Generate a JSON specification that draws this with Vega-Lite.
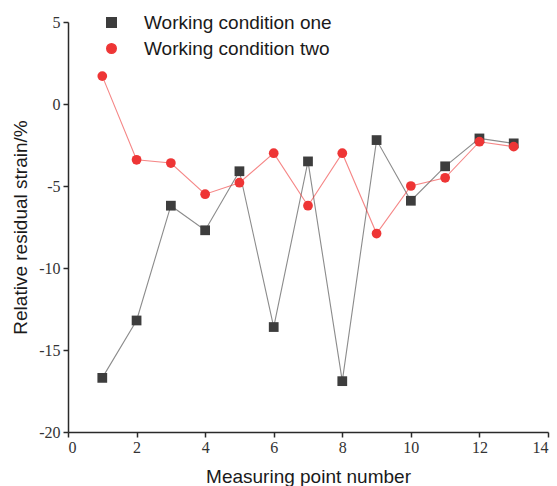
{
  "$schema": "https://vega.github.io/schema/vega-lite/v6.json",
  "width": 480,
  "height": 410,
  "autosize": {"type": "none"},
  "padding": {"left": 68, "top": 22, "right": 9, "bottom": 54},
  "background": "white",
  "config": {
    "view": {"stroke": null},
    "axis": {
      "grid": false,
      "domainColor": "#2a2a2a",
      "domainWidth": 1.5,
      "tickColor": "#2a2a2a",
      "tickWidth": 1.5,
      "tickSize": 5,
      "labelFont": "Liberation Serif",
      "labelFontSize": 16,
      "labelColor": "#333333",
      "titleFont": "Liberation Sans",
      "titleFontSize": 19,
      "titleFontWeight": "normal",
      "titleColor": "#1a1a1a"
    }
  },
  "data": {
    "values": [
      {"point": 1, "series": "Working condition one", "value": -16.7},
      {"point": 2, "series": "Working condition one", "value": -13.2},
      {"point": 3, "series": "Working condition one", "value": -6.2},
      {"point": 4, "series": "Working condition one", "value": -7.7},
      {"point": 5, "series": "Working condition one", "value": -4.1},
      {"point": 6, "series": "Working condition one", "value": -13.6},
      {"point": 7, "series": "Working condition one", "value": -3.5},
      {"point": 8, "series": "Working condition one", "value": -16.9},
      {"point": 9, "series": "Working condition one", "value": -2.2},
      {"point": 10, "series": "Working condition one", "value": -5.9},
      {"point": 11, "series": "Working condition one", "value": -3.8},
      {"point": 12, "series": "Working condition one", "value": -2.1},
      {"point": 13, "series": "Working condition one", "value": -2.4},
      {"point": 1, "series": "Working condition two", "value": 1.7},
      {"point": 2, "series": "Working condition two", "value": -3.4},
      {"point": 3, "series": "Working condition two", "value": -3.6},
      {"point": 4, "series": "Working condition two", "value": -5.5},
      {"point": 5, "series": "Working condition two", "value": -4.8},
      {"point": 6, "series": "Working condition two", "value": -3.0},
      {"point": 7, "series": "Working condition two", "value": -6.2},
      {"point": 8, "series": "Working condition two", "value": -3.0},
      {"point": 9, "series": "Working condition two", "value": -7.9},
      {"point": 10, "series": "Working condition two", "value": -5.0},
      {"point": 11, "series": "Working condition two", "value": -4.5},
      {"point": 12, "series": "Working condition two", "value": -2.3},
      {"point": 13, "series": "Working condition two", "value": -2.6}
    ]
  },
  "encoding": {
    "x": {
      "field": "point",
      "type": "quantitative",
      "scale": {"domain": [0, 14], "nice": false, "zero": false},
      "axis": {"title": "Measuring point number", "tickCount": 7, "labelPadding": 2, "titlePadding": 12}
    },
    "y": {
      "field": "value",
      "type": "quantitative",
      "scale": {"domain": [-20, 5], "nice": false, "zero": false},
      "axis": {
        "title": "Relative residual strain/%",
        "tickCount": 5,
        "labelExpr": "replace(datum.label, '\u2212', '-')",
        "labelPadding": 3,
        "titlePadding": 8
      }
    },
    "color": {
      "field": "series",
      "type": "nominal",
      "scale": {"domain": ["Working condition one", "Working condition two"], "range": ["#3d3d3d", "#ee3535"]},
      "legend": {
        "title": null,
        "orient": "none",
        "legendX": 34,
        "legendY": -9,
        "padding": 0,
        "labelFont": "Liberation Sans",
        "labelFontSize": 19,
        "labelColor": "#1a1a1a",
        "labelLimit": 0,
        "labelOffset": 23,
        "symbolSize": 90,
        "rowPadding": 6
      }
    }
  },
  "layer": [
    {
      "mark": {"type": "line", "strokeWidth": 1.1, "strokeOpacity": 0.6}
    },
    {
      "mark": {"type": "point", "filled": true, "opacity": 1, "size": 95},
      "encoding": {
        "shape": {
          "field": "series",
          "type": "nominal",
          "scale": {"domain": ["Working condition one", "Working condition two"], "range": ["square", "circle"]},
          "legend": {
            "title": null,
            "orient": "none",
            "legendX": 34,
            "legendY": -9,
            "padding": 0,
            "labelFont": "Liberation Sans",
            "labelFontSize": 19,
            "labelColor": "#1a1a1a",
            "labelLimit": 0,
            "labelOffset": 23,
            "symbolSize": 90,
            "rowPadding": 6
          }
        }
      }
    }
  ]
}
